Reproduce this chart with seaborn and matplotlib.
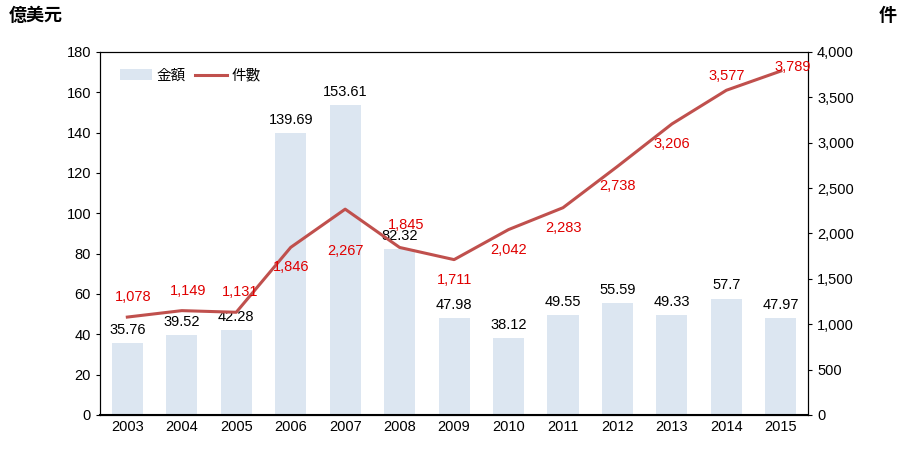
import matplotlib
matplotlib.use("Agg")
import matplotlib.pyplot as plt
import seaborn as sns
import pandas as pd

years = ["2003","2004","2005","2006","2007","2008","2009","2010","2011","2012","2013","2014","2015"]
amount = [35.76,39.52,42.28,139.69,153.61,82.32,47.98,38.12,49.55,55.59,49.33,57.7,47.97]
amount_labels = ["35.76","39.52","42.28","139.69","153.61","82.32","47.98","38.12","49.55","55.59","49.33","57.7","47.97"]
count = [1078,1149,1131,1846,2267,1845,1711,2042,2283,2738,3206,3577,3789]

cjk = ["Noto Sans CJK TC", "Noto Sans CJK JP", "Noto Sans CJK SC", "Noto Sans CJK KR", "DejaVu Sans"]
plt.rcParams["font.family"] = "sans-serif"
plt.rcParams["font.sans-serif"] = cjk
df = pd.DataFrame({"year": years, "amount": amount, "count": count})

fig = plt.figure(figsize=(9.1, 4.51), dpi=100)
ax = fig.add_axes([0.11, 0.08, 0.778, 0.805])
sns.barplot(data=df, x="year", y="amount", color="#dce6f1", saturation=1, width=0.57, ax=ax, label="金額")
ax.set_ylim(0, 180); ax.set_yticks(range(0, 181, 20))
ax.set_xlim(-0.5, 12.5)
ax.set_xlabel(""); ax.set_ylabel("")
if ax.get_legend() is not None:
    ax.get_legend().remove()
for i, (v, t) in enumerate(zip(amount, amount_labels)):
    ax.text(i, v + 3, t, ha="center", va="bottom", fontsize=10.5, family="Liberation Sans")

ax2 = ax.twinx()
ax2.plot(range(len(years)), count, color="#c0504d", lw=2.2, label="件數")
ax2.set_ylim(0, 4000); ax2.set_yticks(range(0, 4001, 500))
ax2.set_yticklabels([f"{v:,}" for v in range(0, 4001, 500)])
offsets = [(6,20),(6,20),(4,20),(0,-20),(0,-42),(6,22),(0,-20),(0,-20),(0,-20),(0,-20),(0,-20),(0,14),(12,4)]
for i, (v, (dx, dy)) in enumerate(zip(count, offsets)):
    ax2.annotate(f"{v:,}", (i, v), xytext=(dx, dy), textcoords="offset pixels",
                 ha="center", va="center", color="#e00000", fontsize=10.5, family="Liberation Sans")

for a in (ax, ax2):
    a.tick_params(labelsize=10.5, length=3)
    for s in a.spines.values():
        s.set_color("black")
    for lab in a.get_xticklabels() + a.get_yticklabels():
        lab.set_family("Liberation Sans")
ax.spines["bottom"].set_linewidth(1.5)
ax.tick_params(axis="x", length=0)

h1, l1 = ax.get_legend_handles_labels()
h2, l2 = ax2.get_legend_handles_labels()
ax2.legend(h1 + h2, l1 + l2, loc="upper left", bbox_to_anchor=(0.01, 0.99), ncol=2, frameon=False,
           fontsize=10.5, handlelength=2.2, columnspacing=0.6, handletextpad=0.3)
fig.text(0.01, 0.965, "億美元", fontsize=13, fontweight="bold", va="center")
fig.text(0.975, 0.965, "件", fontsize=13, fontweight="bold", va="center", ha="center")
fig.savefig("out.png", dpi=100)
